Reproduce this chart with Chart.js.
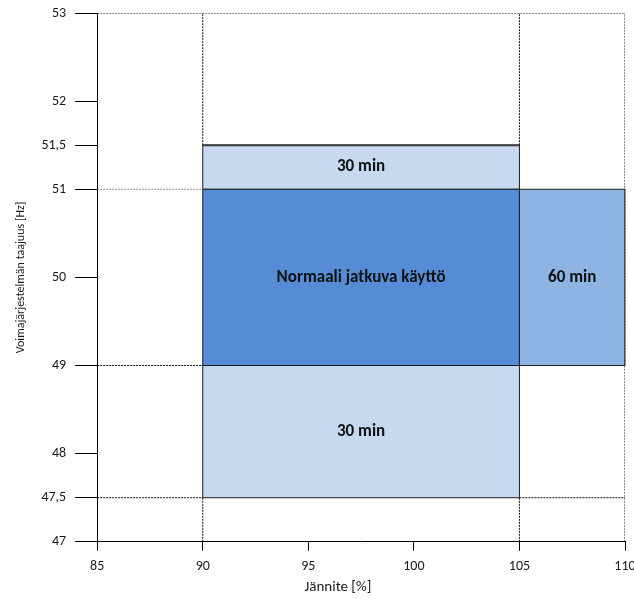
<!DOCTYPE html>
<html>
<head>
<meta charset="utf-8">
<script src="https://cdn.jsdelivr.net/npm/chart.js@4"></script>
<style>
  html, body { margin: 0; padding: 0; background: #fff; }
  #wrap { width: 634px; height: 599px; }
</style>
</head>
<body>
<div id="wrap"><canvas id="myChart"></canvas></div>
<script>
// Data
const xTicks = [85, 90, 95, 100, 105, 110];
const yTicks = [47, 47.5, 48, 49, 50, 51, 51.5, 52, 53];

const zoneLabels = ['30 min', 'Normaali jatkuva käyttö', '60 min', '30 min'];
const zoneVoltFrom = [90, 90, 105, 90];
const zoneVoltTo = [105, 105, 110, 105];
const zoneFreqFrom = [51, 49, 49, 47.5];
const zoneFreqTo = [51.5, 51, 51, 49];
const zoneColors = ['#C6D9F0', '#558CD5', '#8EB4E3', '#C6D9F0'];

// dashed guide lines: x1, y1, x2, y2
const guideX1 = [85, 110, 90, 105, 90, 105, 85, 85, 85, 105];
const guideY1 = [53, 47, 51.5, 51.5, 47, 47, 51, 49, 47.5, 47.5];
const guideX2 = [110, 110, 90, 105, 90, 105, 90, 90, 90, 110];
const guideY2 = [53, 53, 53, 53, 47.5, 47.5, 51, 49, 47.5, 47.5];
const guideGray = [false, false, false, false, false, false, true, false, false, false];

const xTitle = 'Jännite [%]';
const yTitle = 'Voimajärjestelmän taajuus [Hz]';

const FONT = 'Carlito, Lato, "Open Sans", sans-serif';
const fmt = v => String(v).replace('.', ',');

const guideSets = guideX1.map((x1, i) => ({
    type: 'scatter',
    data: [{ x: x1, y: guideY1[i] }, { x: guideX2[i], y: guideY2[i] }],
    showLine: true,
    borderColor: guideGray[i] ? '#8a8a8a' : '#111',
    borderWidth: 1,
    borderDash: [2, 1],
    pointRadius: 0,
    order: 1
}));

// zones drawn through the scales
const zonePlugin = {
    id: 'zones',
    beforeDatasetsDraw(chart) {
        const { ctx, scales: { x, y } } = chart;
        ctx.save();
        zoneLabels.forEach((label, i) => {
            const l = x.getPixelForValue(zoneVoltFrom[i]);
            const r = x.getPixelForValue(zoneVoltTo[i]);
            const t = y.getPixelForValue(zoneFreqTo[i]);
            const b = y.getPixelForValue(zoneFreqFrom[i]);
            ctx.fillStyle = zoneColors[i];
            ctx.fillRect(l, t, r - l, b - t);
            ctx.strokeStyle = '#1e1e1e';
            ctx.lineWidth = 1;
            ctx.strokeRect(l, t, r - l, b - t);
        });
        // thicker top edge of the upper 30 min box
        ctx.strokeStyle = '#3a3a3a';
        ctx.lineWidth = 2;
        ctx.beginPath();
        ctx.moveTo(x.getPixelForValue(zoneVoltFrom[0]), y.getPixelForValue(zoneFreqTo[0]));
        ctx.lineTo(x.getPixelForValue(zoneVoltTo[0]), y.getPixelForValue(zoneFreqTo[0]));
        ctx.stroke();
        ctx.restore();
    },
    afterDatasetsDraw(chart) {
        const { ctx, scales: { x, y } } = chart;
        ctx.save();
        ctx.fillStyle = '#111';
        ctx.font = 'bold 17px ' + FONT;
        ctx.textAlign = 'center';
        ctx.textBaseline = 'middle';
        zoneLabels.forEach((label, i) => {
            const cx = x.getPixelForValue((zoneVoltFrom[i] + zoneVoltTo[i]) / 2);
            const cy = y.getPixelForValue((zoneFreqFrom[i] + zoneFreqTo[i]) / 2);
            ctx.fillText(label, cx, cy);
        });
        ctx.restore();
    },
    afterDraw(chart) {
        // x title sits a bit left of centre in the original
        const { ctx, scales: { x } } = chart;
        ctx.save();
        ctx.fillStyle = '#1a1a1a';
        ctx.font = '15px ' + FONT;
        ctx.textAlign = 'center';
        ctx.textBaseline = 'middle';
        ctx.fillText(xTitle, x.getPixelForValue(96.4), x.bottom - 9);
        ctx.restore();
    }
};

const myChart = new Chart(document.getElementById('myChart'), {
    type: 'scatter',
    data: { datasets: guideSets },
    plugins: [zonePlugin],
    options: {
        responsive: true,
        maintainAspectRatio: false,
        animation: false,
        layout: { padding: { left: 10, right: 9, top: 13, bottom: 3 } },
        plugins: {
            legend: false,
            tooltip: { enabled: false }
        },
        scales: {
            x: {
                type: 'linear',
                min: 85,
                max: 110,
                afterBuildTicks: s => { s.ticks = xTicks.map(v => ({ value: v })); },
                afterFit: s => { s.paddingRight = 0; s.paddingLeft = 0; },
                grid: { drawOnChartArea: false, tickLength: 9, color: '#000', tickWidth: 1 },
                border: { color: '#000', width: 1 },
                ticks: { color: '#1a1a1a', padding: 7, font: { family: FONT, size: 14 } },
                title: { display: true, text: xTitle, color: 'rgba(0,0,0,0)', font: { family: FONT, size: 12 }, padding: { top: 0, bottom: 0 } }
            },
            y: {
                type: 'linear',
                min: 47,
                max: 53,
                afterBuildTicks: s => { s.ticks = yTicks.map(v => ({ value: v })); },
                afterFit: s => { s.paddingTop = 0; s.paddingBottom = 0; },
                grid: { drawOnChartArea: false, tickLength: 22, color: '#000', tickWidth: 1 },
                border: { color: '#000', width: 1 },
                ticks: { color: '#1a1a1a', padding: 9, font: { family: FONT, size: 14 }, callback: v => fmt(v) },
                title: { display: true, text: yTitle, color: '#1a1a1a', font: { family: FONT, size: 12 }, padding: { top: 4, bottom: 4 } }
            }
        }
    }
});
</script>
</body>
</html>
